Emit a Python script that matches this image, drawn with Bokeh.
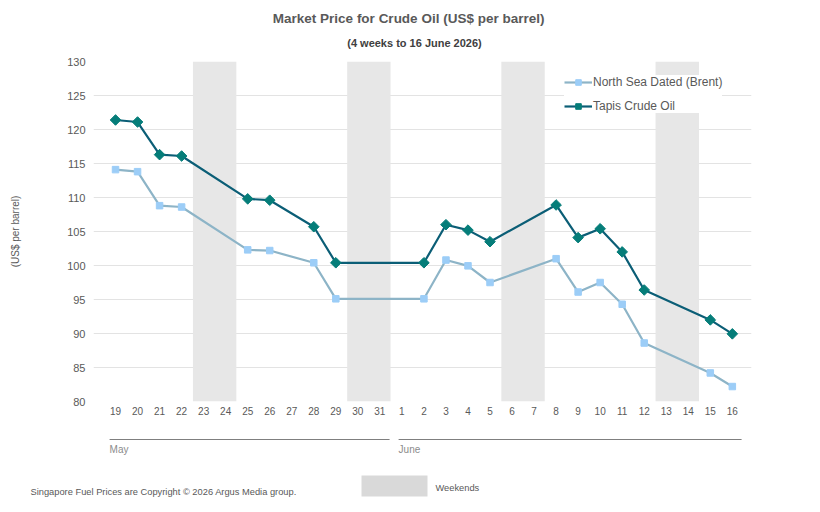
import math
from bokeh.plotting import figure
from bokeh.layouts import column
from bokeh.models import Range1d, FixedTicker, Legend, LegendItem
from bokeh.core.properties import value
from bokeh.embed import file_html
from bokeh.resources import INLINE

# ---- data ----
days = ["19", "20", "21", "22", "23", "24", "25", "26", "27", "28", "29", "30", "31",
        "1", "2", "3", "4", "5", "6", "7", "8", "9", "10", "11", "12", "13", "14", "15", "16"]
brent = [114.1, 113.8, 108.8, 108.6, None, None, 102.3, 102.2, None, 100.4, 95.1, None, None,
         None, 95.1, 100.8, 99.95, 97.5, None, None, 101.0, 96.1, 97.5, 94.3, 88.6, None, None, 84.2, 82.2]
tapis = [121.4, 121.1, 116.3, 116.1, None, None, 109.8, 109.6, None, 105.7, 100.4, None, None,
         None, 100.4, 106.0, 105.2, 103.5, None, None, 108.9, 104.1, 105.4, 102.0, 96.4, None, None, 92.0, 89.95]
weekend_starts = ["23", "30", "6", "13"]
months = ["May", "June"]
month_first = ["19", "1"]
month_last = ["31", "16"]
y_ticks = [80, 85, 90, 95, 100, 105, 110, 115, 120, 125, 130]

title = "Market Price for Crude  Oil (US$ per barrel)"
subtitle = "(4 weeks to 16 June 2026)"
footer = "Singapore Fuel Prices are Copyright \u00a9 2026 Argus Media group."

FONT = "Liberation Sans"
GREY = "#595959"
W = 820

idx = {d: i for i, d in enumerate(days)}
bx = [i for i, v in enumerate(brent) if v is not None]
by = [v for v in brent if v is not None]
tx = [i for i, v in enumerate(tapis) if v is not None]
ty = [v for v in tapis if v is not None]

# frame geometry of main chart
FL, FR = 93, 751
X0, X1 = -1.0, 28.87
k = (FR - FL) / (X1 - X0)


def plain(h, xr, yr):
    f = figure(width=W, height=h, output_backend="svg", toolbar_location=None,
               x_range=xr, y_range=yr, min_border=0)
    f.axis.visible = False
    f.grid.grid_line_color = None
    f.outline_line_color = None
    try:
        f.frame_align = False
    except Exception:
        pass
    return f


# ---- header ----
hd = plain(50, Range1d(0, W), Range1d(50, 0))
hd.text(x=[410], y=[18], text=[title], text_font=value(FONT), text_font_size="13.5px",
        text_font_style="bold", text_color=GREY, text_align="center", text_baseline="middle")
hd.text(x=[414], y=[42], text=[subtitle], text_font=value(FONT), text_font_size="11px",
        text_font_style="bold", text_color="#404040", text_align="center", text_baseline="middle")

# ---- main chart ----
p = figure(width=W, height=380, output_backend="svg", toolbar_location=None,
           x_range=Range1d(X0, X1), y_range=Range1d(y_ticks[0], y_ticks[-1]),
           min_border_left=FL, min_border_right=W - FR, min_border_top=11, min_border_bottom=29)
p.outline_line_color = None

wx = [idx[d] + 0.5 for d in weekend_starts]
p.vbar(x=wx, width=1.97, top=y_ticks[-1], bottom=y_ticks[0], color="#e7e7e7", line_color=None)

for ax in (p.xaxis, p.yaxis):
    ax.axis_line_color = None
    ax.major_tick_line_color = None
    ax.minor_tick_line_color = None
    ax.major_tick_out = 0
    ax.major_tick_in = 0
    ax.minor_tick_out = 0
    ax.major_label_text_font = FONT
    ax.major_label_text_color = GREY

p.xaxis.ticker = FixedTicker(ticks=list(range(len(days))))
p.xaxis.major_label_overrides = {i: d for i, d in enumerate(days)}
p.xaxis.major_label_text_font_size = "10px"
p.xaxis.major_label_standoff = 5
p.xgrid.grid_line_color = None

p.yaxis.ticker = FixedTicker(ticks=y_ticks)
p.yaxis.major_label_text_font_size = "11px"
p.yaxis.major_label_standoff = 8
p.yaxis.axis_label = "(US$ per barrel)"
p.yaxis.axis_label_text_font = FONT
p.yaxis.axis_label_text_font_size = "10px"
p.yaxis.axis_label_text_font_style = "normal"
p.yaxis.axis_label_text_color = GREY
p.yaxis.axis_label_standoff = 43
p.ygrid.grid_line_color = "#e3e3e3"
p.ygrid.grid_line_width = 1

bl = p.line(bx, by, line_color="#8db4c7", line_width=2.2)
bm = p.scatter(bx, by, marker="square", size=6.5, fill_color="#9ccdf7", line_color="#9ccdf7")
tl = p.line(tx, ty, line_color="#0b5e76", line_width=2.2)
tm = p.scatter(tx, ty, marker="square", angle=math.pi / 4, size=7.5,
               fill_color="#057d79", line_color="#057d79")

legend = Legend(items=[LegendItem(label="North Sea Dated (Brent)", renderers=[bl, bm]),
                       LegendItem(label="Tapis Crude Oil", renderers=[tl, tm])],
                location=(471, 288), background_fill_color="white", background_fill_alpha=1.0,
                border_line_color=None, label_text_font=FONT, label_text_font_size="12px",
                label_text_color=GREY, glyph_width=28, glyph_height=14, label_height=14,
                spacing=10, padding=10, margin=0, label_standoff=1)
p.add_layout(legend, "center")

# ---- footer (same x mapping as the main chart) ----
def px2x(px):
    return X0 + (px - FL) / k


ft = plain(82, Range1d(px2x(0), px2x(W)), Range1d(82, 0))
m_start = [idx[a] - 0.27 if i == 0 else idx[a] - 0.15 for i, a in enumerate(month_first)]
m_end = [idx[b] + 0.44 if i == 0 else idx[b] + 0.42 for i, b in enumerate(month_last)]
ft.segment(x0=m_start, x1=m_end, y0=[9] * len(months), y1=[9] * len(months),
           line_color="#7f7f7f", line_width=1)
ft.text(x=m_start, y=[19] * len(months), text=months, text_font=value(FONT),
        text_font_size="10px", text_color="#8c8c8c", text_baseline="middle")
ft.text(x=[px2x(30)], y=[61], text=[footer], text_font=value(FONT), text_font_size="9.3px",
        text_color=GREY, text_baseline="middle")
ft.quad(left=[px2x(361)], right=[px2x(427)], top=[45], bottom=[66], fill_color="#d9d9d9",
        line_color=None)
ft.text(x=[px2x(435)], y=[57], text=["Weekends"], text_font=value(FONT), text_font_size="9.3px",
        text_color=GREY, text_baseline="middle")

layout = column(hd, p, ft, spacing=0)
open("out.html", "w").write(file_html(layout, INLINE))
